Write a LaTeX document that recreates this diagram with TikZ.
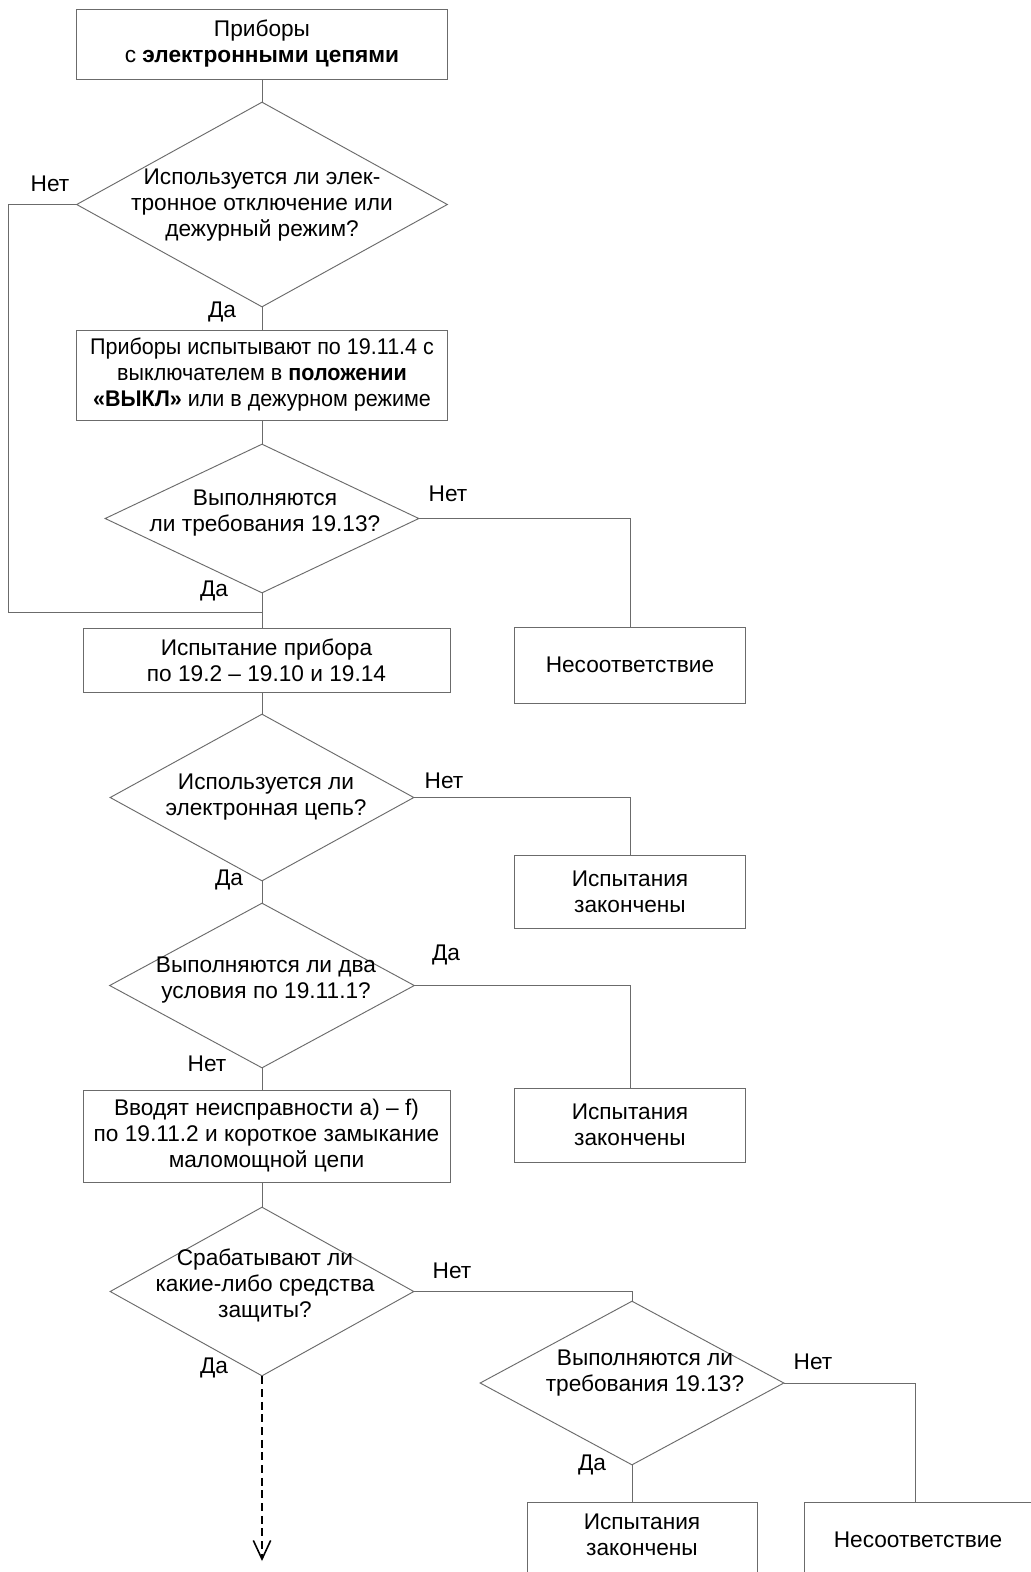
\documentclass[tikz,border=0pt]{standalone}
\usepackage{fontspec}
\setmainfont{Liberation Sans}
\usetikzlibrary{shapes.geometric,arrows.meta}
\definecolor{linec}{gray}{0.42}
\begin{document}
\begin{tikzpicture}[x=0.75pt,y=-0.75pt,
  every node/.style={font=\fontsize{17}{19.5}\selectfont, text=black},
  sz/.style 2 args={minimum width=#1*0.75pt, minimum height=#2*0.75pt},
  box/.style={draw=linec, line width=0.7pt, rectangle, inner sep=0pt, align=center},
  dia/.style={draw=linec, line width=0.7pt, diamond, inner sep=0pt},
  txt/.style={align=center, inner sep=0pt},
  lbl/.style={inner sep=0pt},
  conn/.style={draw=linec, line width=0.7pt},
  flowdash/.style={draw=black, line width=1.1pt, dash pattern=on 6pt off 3.5pt, -{Straight Barb[length=14pt,width=13pt,line width=1.2pt]}}
]
\clip (0,0) rectangle (1031,1572);
\fill[white] (0,0) rectangle (1031,1572);

% main column
\node[box, sz={371}{70}] (b1) at (262,44) {Приборы\\с \textbf{электронными цепями}};
\node[dia, sz={371}{205}] (d1) at (262,204.5) {};
\node[txt] (d1t) at (262,205) {Используется ли элек-\\тронное отключение или\\дежурный режим?};
\node[box, sz={371}{90}, font=\fontsize{17}{19.5}\selectfont\addfontfeature{FakeStretch=0.95}] (b2) at (262,375) {Приборы испытывают по 19.11.4 с\\выключателем в \textbf{положении}\\\textbf{«ВЫКЛ»} или в дежурном режиме};
\node[dia, sz={314}{149}] (d2) at (262,518.5) {};
\node[txt] (d2t) at (265,513) {Выполняются\\ли требования 19.13?};
\node[box, sz={367}{64}] (b3) at (266.5,660) {Испытание прибора\\по 19.2 – 19.10 и 19.14};
\node[dia, sz={304}{167}] (d3) at (262,797.5) {};
\node[txt] (d3t) at (266,797) {Используется ли\\электронная цепь?};
\node[dia, sz={305}{165}] (d4) at (262,985.5) {};
\node[txt] (d4t) at (266,980) {Выполняются ли два\\условия по 19.11.1?};
\node[box, sz={367}{92}] (b4) at (266.5,1136) {Вводят неисправности а) – f)\\по 19.11.2 и короткое замыкание\\маломощной цепи};
\node[dia, sz={304}{169}] (d5) at (262,1291.5) {};
\node[txt] (d5t) at (265,1285) {Срабатывают ли\\какие-либо средства\\защиты?};

% right column
\node[box, sz={231}{76}] (n1) at (630,665) {Несоответствие};
\node[box, sz={231}{73}] (e1) at (630,891.5) {Испытания\\закончены};
\node[box, sz={231}{74}] (e2) at (630,1125) {Испытания\\закончены};
\node[dia, sz={304}{164}] (d6) at (632,1383) {};
\node[txt] (d6t) at (645,1373) {Выполняются ли\\требования 19.13?};
\node[box, sz={230}{80}] (e3) at (642,1542) {};
\node[txt] (e3t) at (642,1534.5) {Испытания\\закончены};
\node[box, sz={231}{80}] (n2) at (919.5,1542) {};
\node[txt] (n2t) at (918,1540) {Несоответствие};

% labels
\node[lbl] (l1) at (50,184) {Нет};
\node[lbl] (l2) at (222,312) {Да};
\node[lbl] (l3) at (448,494) {Нет};
\node[lbl] (l4) at (214,591) {Да};
\node[lbl] (l5) at (444,781) {Нет};
\node[lbl] (l6) at (229,880) {Да};
\node[lbl] (l7) at (446,955) {Да};
\node[lbl] (l8) at (207,1064) {Нет};
\node[lbl] (l9) at (452,1271) {Нет};
\node[lbl] (l10) at (214,1368) {Да};
\node[lbl] (l11) at (813,1362) {Нет};
\node[lbl] (l12) at (592,1465) {Да};

% coordinates
\coordinate (lft) at (8,204.5);
\coordinate (jn) at (262,612);
\coordinate (n2top) at (915,1502);
\coordinate (endarr) at (262,1561);

% connectors
\draw[conn] (b1.south) -- (d1.north);
\draw[conn] (d1.west) -- (lft) |- (jn);
\draw[conn] (d1.south) -- (b2.north);
\draw[conn] (b2.south) -- (d2.north);
\draw[conn] (d2.south) -- (d2.south |- b3.north);
\draw[conn] (d2.east) -| (n1.north);
\draw[conn] (b3.south -| d3.north) -- (d3.north);
\draw[conn] (d3.east) -| (e1.north);
\draw[conn] (d3.south) -- (d4.north);
\draw[conn] (d4.east) -| (e2.north);
\draw[conn] (d4.south) -- (d4.south |- b4.north);
\draw[conn] (b4.south -| d5.north) -- (d5.north);
\draw[conn] (d5.east) -| (d6.north);
\draw[conn] (d6.east) -| (n2top);
\draw[conn] (d6.south) -- (d6.south |- e3.north);
\draw[flowdash] (d5.south) -- (endarr);
\end{tikzpicture}
\end{document}
